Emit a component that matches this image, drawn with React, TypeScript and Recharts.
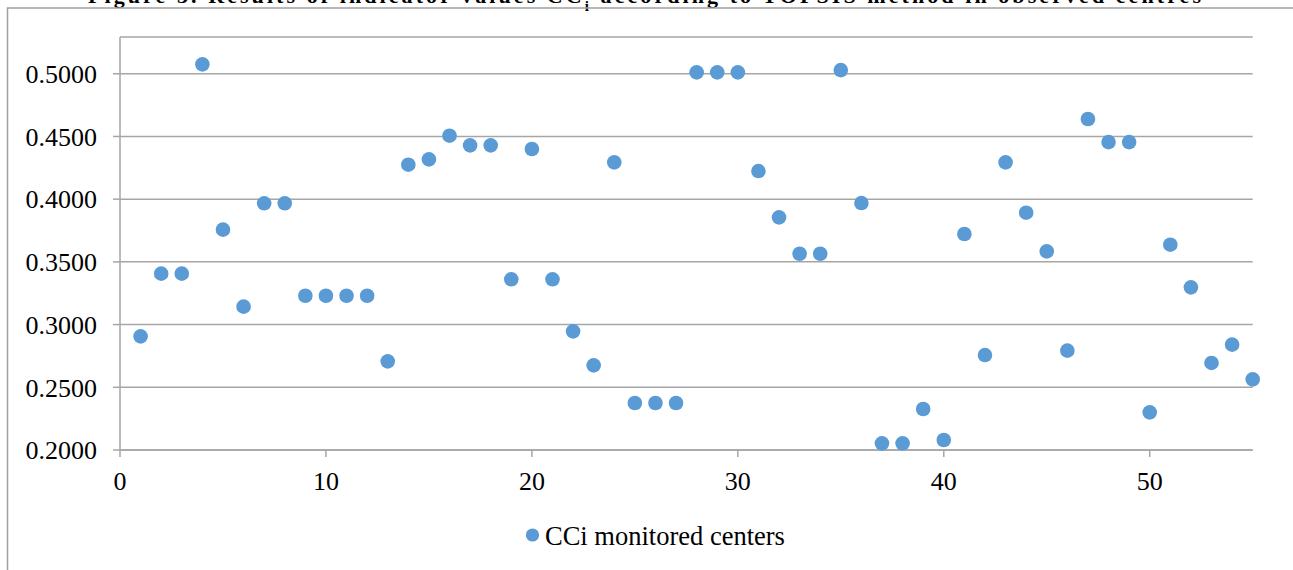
import React from 'react';
import { ScatterChart, Scatter, XAxis, YAxis, CartesianGrid, Legend } from 'recharts';

// Observed centres, numbered 1..55
const centres: number[] = Array.from({ length: 55 }, (_, i) => i + 1);

// CCi closeness coefficient per centre (TOPSIS)
const cciValues: number[] = [
  0.2906, 0.3406, 0.3406, 0.5075, 0.3757, 0.3143, 0.3967, 0.3967, 0.3230, 0.3230,
  0.3230, 0.3230, 0.2707, 0.4275, 0.4317, 0.4506, 0.4429, 0.4429, 0.3361, 0.4400,
  0.3361, 0.2946, 0.2675, 0.4293, 0.2375, 0.2375, 0.2375, 0.5011, 0.5011, 0.5011,
  0.4224, 0.3855, 0.3565, 0.3565, 0.5029, 0.3969, 0.2053, 0.2053, 0.2327, 0.2080,
  0.3722, 0.2757, 0.4293, 0.3892, 0.3584, 0.2792, 0.4639, 0.4455, 0.4455, 0.2300,
  0.3637, 0.3297, 0.2694, 0.2840, 0.2563,
];

const xTicks: number[] = [0, 10, 20, 30, 40, 50];
const yTicks: number[] = [0.2, 0.25, 0.3, 0.35, 0.4, 0.45, 0.5];

const seriesName = 'CCi monitored centers';
const titleText = 'Figure 3. Results of indicator values CC';

const data = centres.map((c, i) => ({ centre: c, cci: cciValues[i] }));

const FONT = "'Liberation Serif', 'Times New Roman', serif";
const DOT = '#5B9BD5';
const GRID = '#a6a6a6';

const Dot = (props: any) => {
  const { cx, cy } = props;
  if (cx == null || cy == null) return null;
  return <circle cx={cx} cy={cy} r={7.3} fill={DOT} />;
};

const LegendContent = (props: any) => {
  const item = (props.payload && props.payload[0]) || { value: seriesName, color: DOT };
  return (
    <svg width={300} height={50} style={{ display: 'block' }}>
      <circle cx={6.5} cy={35} r={6.6} fill={DOT} />
      <text x={19} y={45} fontFamily={FONT} fontSize={26.5} fill="#000">
        {item.value}
      </text>
    </svg>
  );
};

export default function App() {
  return (
    <div
      style={{
        position: 'fixed',
        left: 0,
        top: 0,
        width: 1293,
        height: 570,
        overflow: 'hidden',
        background: '#fff',
      }}
    >
      {/* page caption above the chart frame, and the frame itself */}
      <svg
        width={1293}
        height={570}
        style={{ position: 'absolute', left: 0, top: 0 }}
      >
        <text
          x={88}
          y={3}
          fontFamily={FONT}
          fontWeight="bold"
          fontSize={22}
          fill="#000"
          textLength={1113}
          lengthAdjust="spacing"
        >
          {titleText}
          <tspan baselineShift="sub" fontSize={15}>i</tspan>
          <tspan> according to TOPSIS method in observed centres</tspan>
        </text>
        <rect x={7.5} y={8} width={1400} height={700} fill="none" stroke="#a0a0a0" strokeWidth={1.5} />
      </svg>
      <div style={{ position: 'absolute', left: 0, top: 0 }}>
        <ScatterChart
          width={1293}
          height={570}
          margin={{ top: 37, right: 40.3, left: 0, bottom: 20 }}
        >
          <CartesianGrid horizontal vertical={false} stroke={GRID} strokeWidth={1.5} />
          <XAxis
            type="number"
            dataKey="centre"
            domain={[0, 55]}
            ticks={xTicks}
            interval={0}
            height={50}
            tickSize={7}
            tickMargin={15}
            axisLine={{ stroke: GRID, strokeWidth: 1.5 }}
            tickLine={{ stroke: GRID, strokeWidth: 1.5 }}
            tick={{ fontFamily: FONT, fontSize: 26, fill: '#000' }}
          />
          <YAxis
            type="number"
            dataKey="cci"
            domain={[0.2, 0.5293]}
            ticks={yTicks}
            interval={0}
            width={120}
            tickSize={7}
            tickMargin={16}
            axisLine={{ stroke: GRID, strokeWidth: 1.5 }}
            tickLine={{ stroke: GRID, strokeWidth: 1.5 }}
            tick={{ fontFamily: FONT, fontSize: 26, fill: '#000' }}
            tickFormatter={(v: number) => v.toFixed(4)}
          />
          <Legend
            verticalAlign="bottom"
            height={50}
            content={<LegendContent />}
            wrapperStyle={{ left: 526, width: 300, height: 50 }}
          />
          <Scatter
            name={seriesName}
            data={data}
            fill={DOT}
            shape={<Dot />}
            isAnimationActive={false}
          />
        </ScatterChart>
      </div>
    </div>
  );
}
